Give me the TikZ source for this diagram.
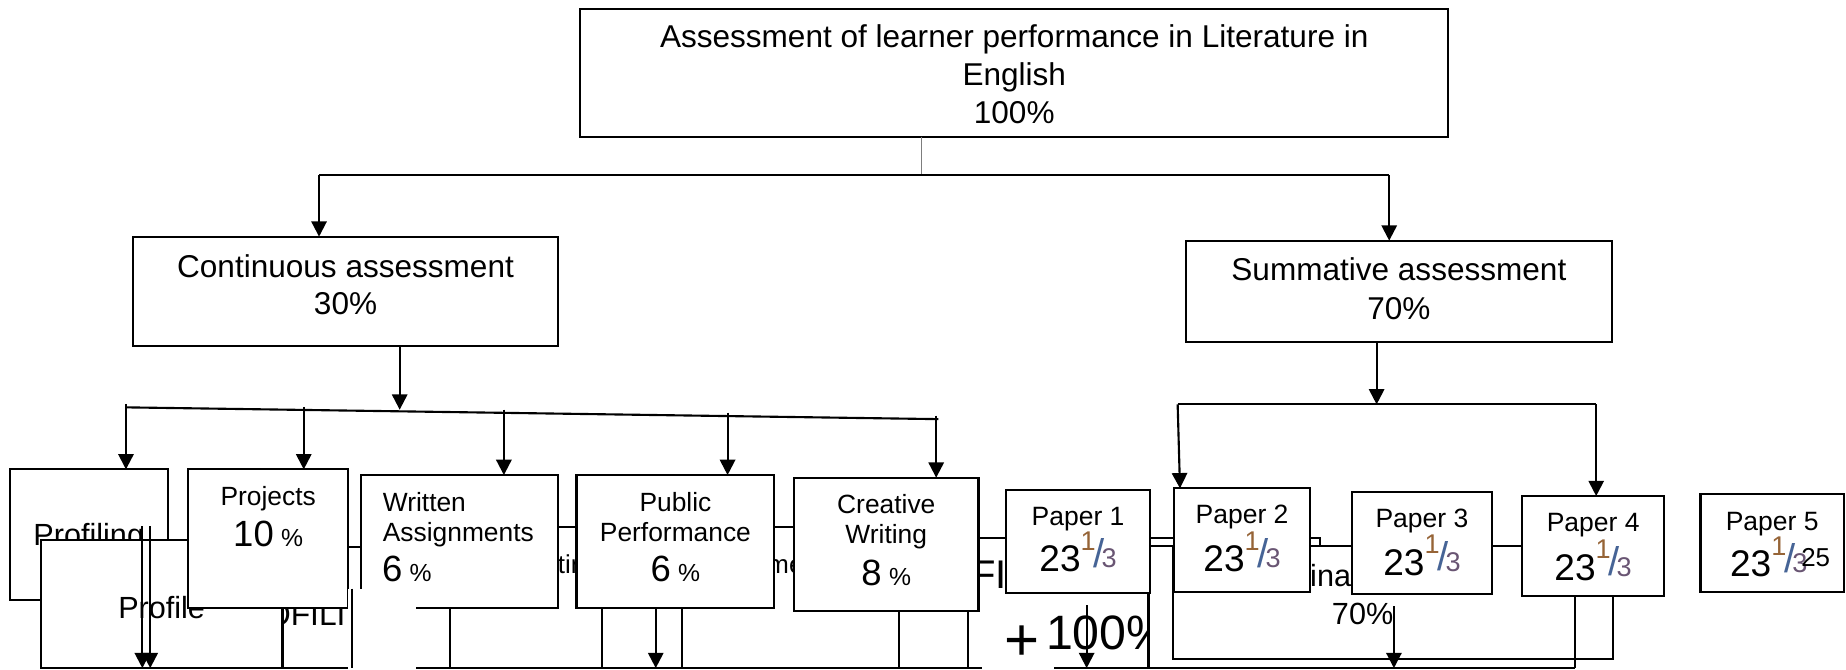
\documentclass[tikz,border=0pt]{standalone}
\usepackage{fontspec}
\usepackage{graphicx}
\setmainfont{Liberation Sans}
\usetikzlibrary{arrows.meta}

\definecolor{fracA}{RGB}{150,100,55}
\definecolor{fracB}{RGB}{70,100,150}
\definecolor{fracC}{RGB}{105,85,115}
\definecolor{thinc}{RGB}{125,125,125}

\newcommand\setfs[2]{\fontsize{#1pt}{#2pt}\selectfont}
% 23 and one third, with a small raised 1 and lowered 3
\newcommand\frthird{%
  {\setfs{15.75}{16}23}%
  \raisebox{9pt}{\setfs{11.5}{12}\color{fracA}1}%
  \kern-1pt
  \raisebox{1.8pt}{\setfs{17}{17}\color{fracB}/}%
  \kern-1.2pt
  \raisebox{1.6pt}{\setfs{11.5}{12}\color{fracC}3}}

\begin{document}
\begin{tikzpicture}[x=0.5pt,y=-0.5pt,
  box/.style={draw, line width=0.9pt, fill=white, inner sep=0pt, outer sep=0pt, rectangle},
  txt/.style={inner sep=0pt, outer sep=0pt},
  ln/.style={line width=0.9pt},
  arr/.style={line width=0.9pt, -{Triangle[length=6.5pt,width=6.5pt]}},
  thinln/.style={line width=0.5pt, draw=thinc},
  patch/.style={fill=white, draw=none},
  big/.style={font=\setfs{13.4}{16}},
  mid/.style={font=\setfs{13}{15}},
  small/.style={font=\setfs{11.2}{13}}]
\useasboundingbox (0,0) rectangle (1568,569);

% ---------- top level ----------
\node[box, minimum width=368.5pt, minimum height=54pt] (top) at (861.5,62) {};
\node[txt, big, anchor=base] (topa) at (861.5,40) {Assessment of learner performance in Literature in};
\node[txt, big, anchor=base] (topb) at (861.5,72.3) {English};
\node[txt, big, anchor=base] (topc) at (861.5,104.5) {100\%};

\node[box, minimum width=180.5pt, minimum height=46.5pt] (cont) at (293.5,247.5) {};
\node[txt, big, anchor=base] (conta) at (293.5,235.5) {Continuous assessment};
\node[txt, big, anchor=base] (contb) at (293.5,267.5) {30\%};

\node[box, minimum width=180.8pt, minimum height=42.9pt] (summ) at (1188.2,247.3) {};
\node[txt, big, anchor=base] (summa) at (1188.2,238.5) {Summative assessment};
\node[txt, big, anchor=base] (summb) at (1188.2,271.5) {70\%};

\coordinate (tj) at (782.8,149);
\coordinate (bL) at (271,149);
\coordinate (bR) at (1180,149);
\draw[thinln] (top.south -| tj) -- (tj);
\draw[ln] (bL) -- (bR);
\draw[arr] (bL) -- (bL |- cont.north);
\draw[arr] (bR) -- (bR |- summ.north);

% ---------- continuous assessment branches ----------
\coordinate (cbL) at (107,346);
\coordinate (cbR) at (797,356);
\coordinate (cj) at (339.5,348);
\draw[arr] (cont.south -| cj) -- (cj);
\draw[ln] (cbL) -- (cbR);
\coordinate (d1) at (107,343);
\coordinate (d2) at (258,345.5);
\coordinate (d3) at (428,348);
\coordinate (d4) at (618,350.5);
\coordinate (d5) at (795.2,353);

% ---------- summative assessment branches ----------
\coordinate (sbL) at (1000.3,343.5);
\coordinate (sbR) at (1355.8,343.5);
\coordinate (sj) at (1169.3,343.5);
\draw[arr] (summ.south -| sj) -- (sj);
\draw[ln] (sbL) -- (sbR);

% ---------- lower row ----------
\coordinate (bot) at (35,567.5);
\coordinate (botR) at (1338,567.5);
\draw[ln] (bot) -- (botR);

% letters of labels lying under the boxes
\node[txt, anchor=base west, font=\setfs{11}{13}] (hidA) at (473.9,487) {tin};
\node[txt, anchor=base west, font=\setfs{11}{13}] (hidB) at (651.9,487) {me};
\node[txt, anchor=base west, font=\setfs{17}{19}] (hidC) at (825,500) {FI};

\node[box, minimum width=67pt, minimum height=55.5pt] (profiling) at (75.4,454.2) {};
\node[txt, mid, anchor=base] (profilingT) at (75.4,463) {Profiling};
\node[txt, anchor=base west, font=\setfs{13.5}{15}] (hidD) at (226,531) {OFILIN};
\node[box, minimum width=102.7pt, minimum height=54.4pt] (profile) at (137.3,513.1) {};
\node[txt, mid, anchor=base] (profileT) at (137.3,525) {Profile};

\node[box, minimum width=67.8pt, minimum height=59pt] (proj) at (227.8,457.7) {};
\node[txt, small, anchor=base] (projA) at (227.8,429) {Projects};
\node[txt, small, anchor=base] (projB) at (227.8,464.3) {{\setfs{15.5}{16}10} {\setfs{10.5}{11}\%}};

\coordinate (a1) at (120.9,447);
\coordinate (a2) at (127.6,447);
\draw[arr] (a1) -- (a1 |- bot);
\draw[arr] (a2) -- (a2 |- bot);

\node[box, minimum width=83.6pt, minimum height=56.6pt] (writ) at (390,460.1) {};
\node[txt, small, anchor=base west] (writA) at (325.2,434.6) {Written};
\node[txt, small, anchor=base west] (writB) at (325.2,460) {Assignments};
\node[txt, small, anchor=base west] (writC) at (324.5,494) {{\setfs{15.5}{16}6} {\setfs{10.5}{11}\%}};

\node[box, minimum width=84.05pt, minimum height=56.6pt] (pub) at (573.7,460.1) {};
\node[txt, small, anchor=base] (pubA) at (573.7,434.6) {Public};
\node[txt, small, anchor=base] (pubB) at (573.7,460) {Performance};
\node[txt, small, anchor=base] (pubC) at (573.7,494) {{\setfs{15.5}{16}6} {\setfs{10.5}{11}\%}};

\node[box, minimum width=78.35pt, minimum height=56.65pt] (crea) at (752.8,462.4) {};
\node[txt, small, anchor=base] (creaA) at (752.8,436) {Creative};
\node[txt, small, anchor=base] (creaB) at (752.8,461.5) {Writing};
\node[txt, small, anchor=base] (creaC) at (752.8,497) {{\setfs{15.5}{16}8} {\setfs{10.5}{11}\%}};

% drops from the continuous bus
\draw[arr] (d1) -- (d1 |- profiling.north);
\draw[arr] (d2) -- (d2 |- proj.north);
\draw[arr] (d3) -- (d3 |- writ.north);
\draw[arr] (d4) -- (d4 |- pub.north);
\draw[arr] (d5) -- (d5 |- crea.north);

% short links between neighbouring boxes
\coordinate (h1) at (0,464.3);
\coordinate (h2) at (0,447.3);
\coordinate (h3) at (0,457.3);
\draw[ln] (proj.east |- h1) -- (writ.west |- h1);
\draw[ln] (writ.east |- h2) -- (pub.west |- h2);
\draw[ln] (pub.east |- h2) -- (crea.west |- h2);

% stubs under the boxes
\coordinate (v1) at (382,567.5);
\coordinate (v2) at (511,567.5);
\coordinate (v3) at (579,567.5);
\coordinate (v4) at (763.6,567.5);
\coordinate (v5) at (822,567.5);
\coordinate (va) at (557,567.5);
\draw[ln] (v1 |- writ.south) -- (v1);
\draw[ln] (v2 |- pub.south) -- (v2);
\draw[ln] (v3 |- pub.south) -- (v3);
\draw[arr] (va |- pub.south) -- (va);
\draw[ln] (v4 |- crea.south) -- (v4);
\draw[ln] (v5 |- crea.south) -- (v5);

% ---------- papers ----------
\node[box, minimum width=187pt, minimum height=48pt] (finalbox) at (1183,512) {};
\node[txt, mid, anchor=base west] (finalA) at (1097,498) {Final};
\node[txt, mid, anchor=base] (finalB) at (1157.4,530.3) {70\%};
\node[box, minimum width=72.5pt, minimum height=3.5pt] (bump) at (1048.5,460.5) {};

\node[box, minimum width=61pt, minimum height=43.9pt] (p1) at (915.7,460.1) {};
\node[txt, font=\setfs{11.25}{13}, anchor=base] (p1A) at (915.7,446) {Paper 1};
\node[txt, anchor=base] (p1B) at (915.7,485.6) {\frthird};
\draw[ln] (crea.east |- h3) -- (p1.west |- h3);

\node[box, minimum width=57.5pt, minimum height=43.9pt] (p2) at (1055,458.7) {};
\node[txt, font=\setfs{11.25}{13}, anchor=base] (p2A) at (1055,444.5) {Paper 2};
\node[txt, anchor=base] (p2B) at (1055,485.6) {\frthird};

\node[box, minimum width=59.4pt, minimum height=43.2pt] (p3) at (1207.8,461.4) {};
\node[txt, font=\setfs{11.25}{13}, anchor=base] (p3A) at (1207.8,447.9) {Paper 3};
\node[txt, anchor=base] (p3B) at (1207.8,488.4) {\frthird};

\node[box, minimum width=60.35pt, minimum height=42.45pt] (p4) at (1353.2,463.8) {};
\node[txt, font=\setfs{11.25}{13}, anchor=base] (p4A) at (1353.2,451.6) {Paper 4};
\node[txt, anchor=base] (p4B) at (1353.2,492.7) {\frthird};

\node[box, minimum width=60.9pt, minimum height=41.5pt] (p5) at (1505.3,461.1) {};
\node[txt, font=\setfs{11.25}{13}, anchor=base] (p5A) at (1505.3,450.2) {Paper 5};
\node[txt, anchor=base west] (p5B) at (1469.5,489.8) {\frthird};
\node[txt, font=\setfs{11}{13}, anchor=base west] (p5C) at (1530,481.3) {25};

% drops from the summative bus
\draw[arr] (sbL) -- ([xshift=1pt]sbL |- p2.north);
\draw[arr] (sbR) -- (sbR |- p4.north);

\coordinate (v6) at (975.5,567.5);
\draw[ln] (v6 |- p1.south) -- (v6);
\draw[ln] (p4.south -| botR) -- (botR);
\coordinate (vb) at (1184,567.5);
\coordinate (vbt) at (1184,515);
\draw[arr] (vbt) -- (vb);

% ---------- white patches and loose marks ----------
\fill[patch] (296,500) rectangle (353,570);
\coordinate (v7) at (299,567.5);
\coordinate (v7t) at (299,500);
\draw[ln] (v7t) -- (v7);

\fill[patch] (834,505) rectangle (895,570);
\node[txt, font=\setfs{25.5}{27}, anchor=base] (plus) at (868.4,561) {+};
\begin{scope}
  \clip (880,500) rectangle (975,570);
  \node[txt, font=\setfs{20.5}{22}, anchor=base west] (hundred) at (888.5,552) {100\%};
\end{scope}
\coordinate (vc) at (923,567.5);
\coordinate (vct) at (923,514);
\draw[arr] (vct) -- (vc);
\end{tikzpicture}
\end{document}
